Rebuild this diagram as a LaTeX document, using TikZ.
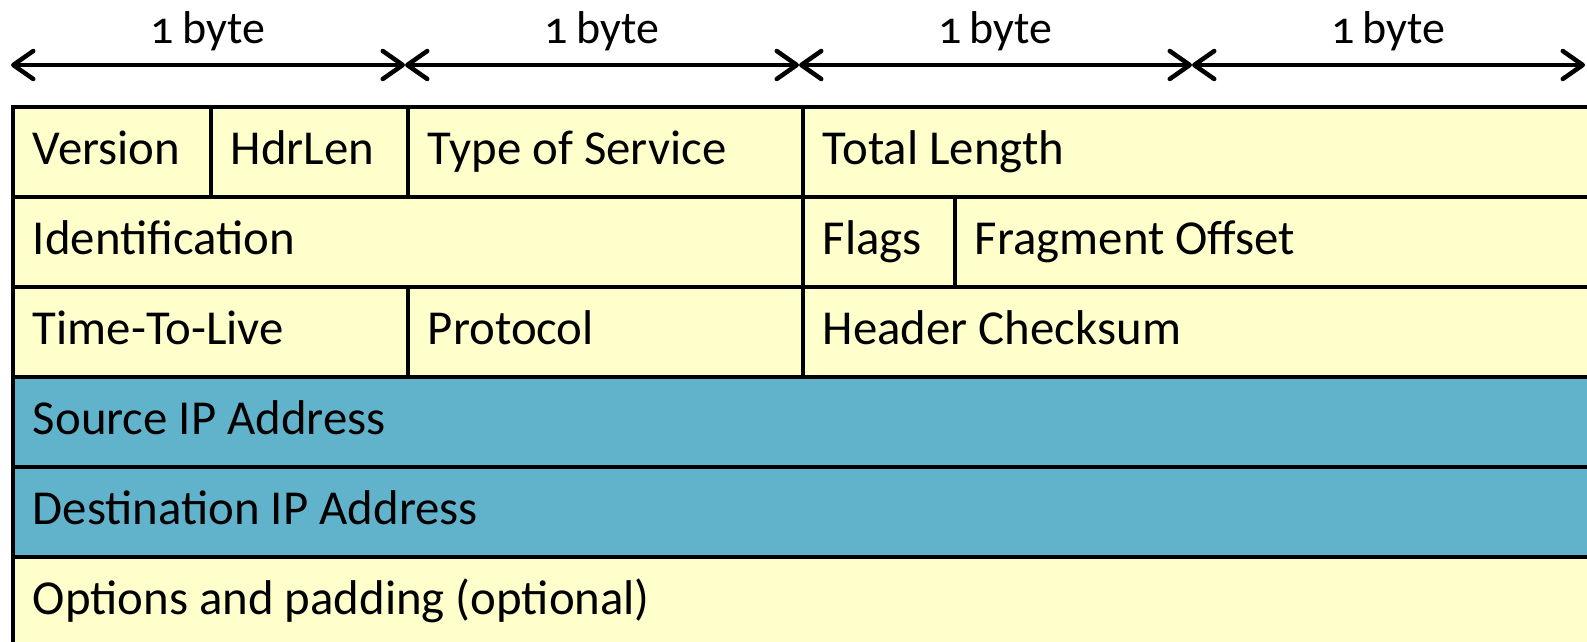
\documentclass[tikz,border=0pt]{standalone}
\usepackage{fontspec}
\setmainfont{Carlito}
\newfontfamily\bytefont{Carlito}[Numbers=OldStyle,WordSpace=0.8]
\usetikzlibrary{arrows.meta}
\definecolor{fieldyellow}{RGB}{255,255,204}
\definecolor{addrblue}{RGB}{97,179,204}
\begin{document}
\begin{tikzpicture}[x=1pt,y=-1pt,
  cell/.style={draw=black, line width=3.8pt, fill=fieldyellow, anchor=north west,
    inner xsep=20pt, inner ysep=0pt, minimum height=90pt,
    text height=58pt, text depth=32pt, align=flush left,
    font=\fontsize{48.8}{58}\selectfont},
  addr/.style={cell, fill=addrblue},
  span/.style={line width=4.5pt, {Straight Barb[length=20pt,width=28pt,round]}-{Straight Barb[length=20pt,width=28pt,round]}},
  bytelbl/.style={anchor=base, yshift=21.7pt, inner sep=0pt, font=\bytefont\fontsize{46}{54}\selectfont}]
\useasboundingbox (0,0) rectangle (1587,642);
\clip (0,0) rectangle (1587,642);
\fill[white] (0,0) rectangle (1587,642);

% byte ruler
\coordinate (b0) at (11,65);
\coordinate (b1) at (405,65);
\coordinate (b2) at (799,65);
\coordinate (b3) at (1192,65);
\coordinate (b4) at (1585,65);
\draw[span] (b0) -- (b1) node[midway, bytelbl] (l1) {1 byte};
\draw[span] (b1) -- (b2) node[midway, bytelbl] (l2) {1 byte};
\draw[span] (b2) -- (b3) node[midway, bytelbl] (l3) {1 byte};
\draw[span] (b3) -- (b4) node[midway, bytelbl] (l4) {1 byte};

% header words
\node[cell, text width=158pt] (ver)   at (11,105)  {Version};
\node[cell, text width=157pt] (hdr)   at (209,105) {HdrLen};
\node[cell, text width=355pt] (tos)   at (406,105) {Type of Service};
\node[cell, text width=749pt] (tot)   at (801,105) {Total Length};

\node[cell, text width=750pt] (ident) at (11,195)  {Identification};
\node[cell, text width=112pt] (flags) at (801,195) {Flags};
\node[cell, text width=597pt] (frag)  at (953,195) {Fragment Offset};

\node[cell, text width=355pt] (ttl)   at (11,285)  {Time-To-Live};
\node[cell, text width=355pt] (proto) at (406,285) {Protocol};
\node[cell, text width=749pt] (chk)   at (801,285) {Header Checksum};

\node[addr, text width=1539pt] (src)  at (11,375)  {Source IP Address};
\node[addr, text width=1539pt] (dst)  at (11,465)  {Destination IP Address};

\node[cell, text width=1539pt] (opt)  at (11,555)  {Options and padding (optional)};
\end{tikzpicture}
\end{document}
